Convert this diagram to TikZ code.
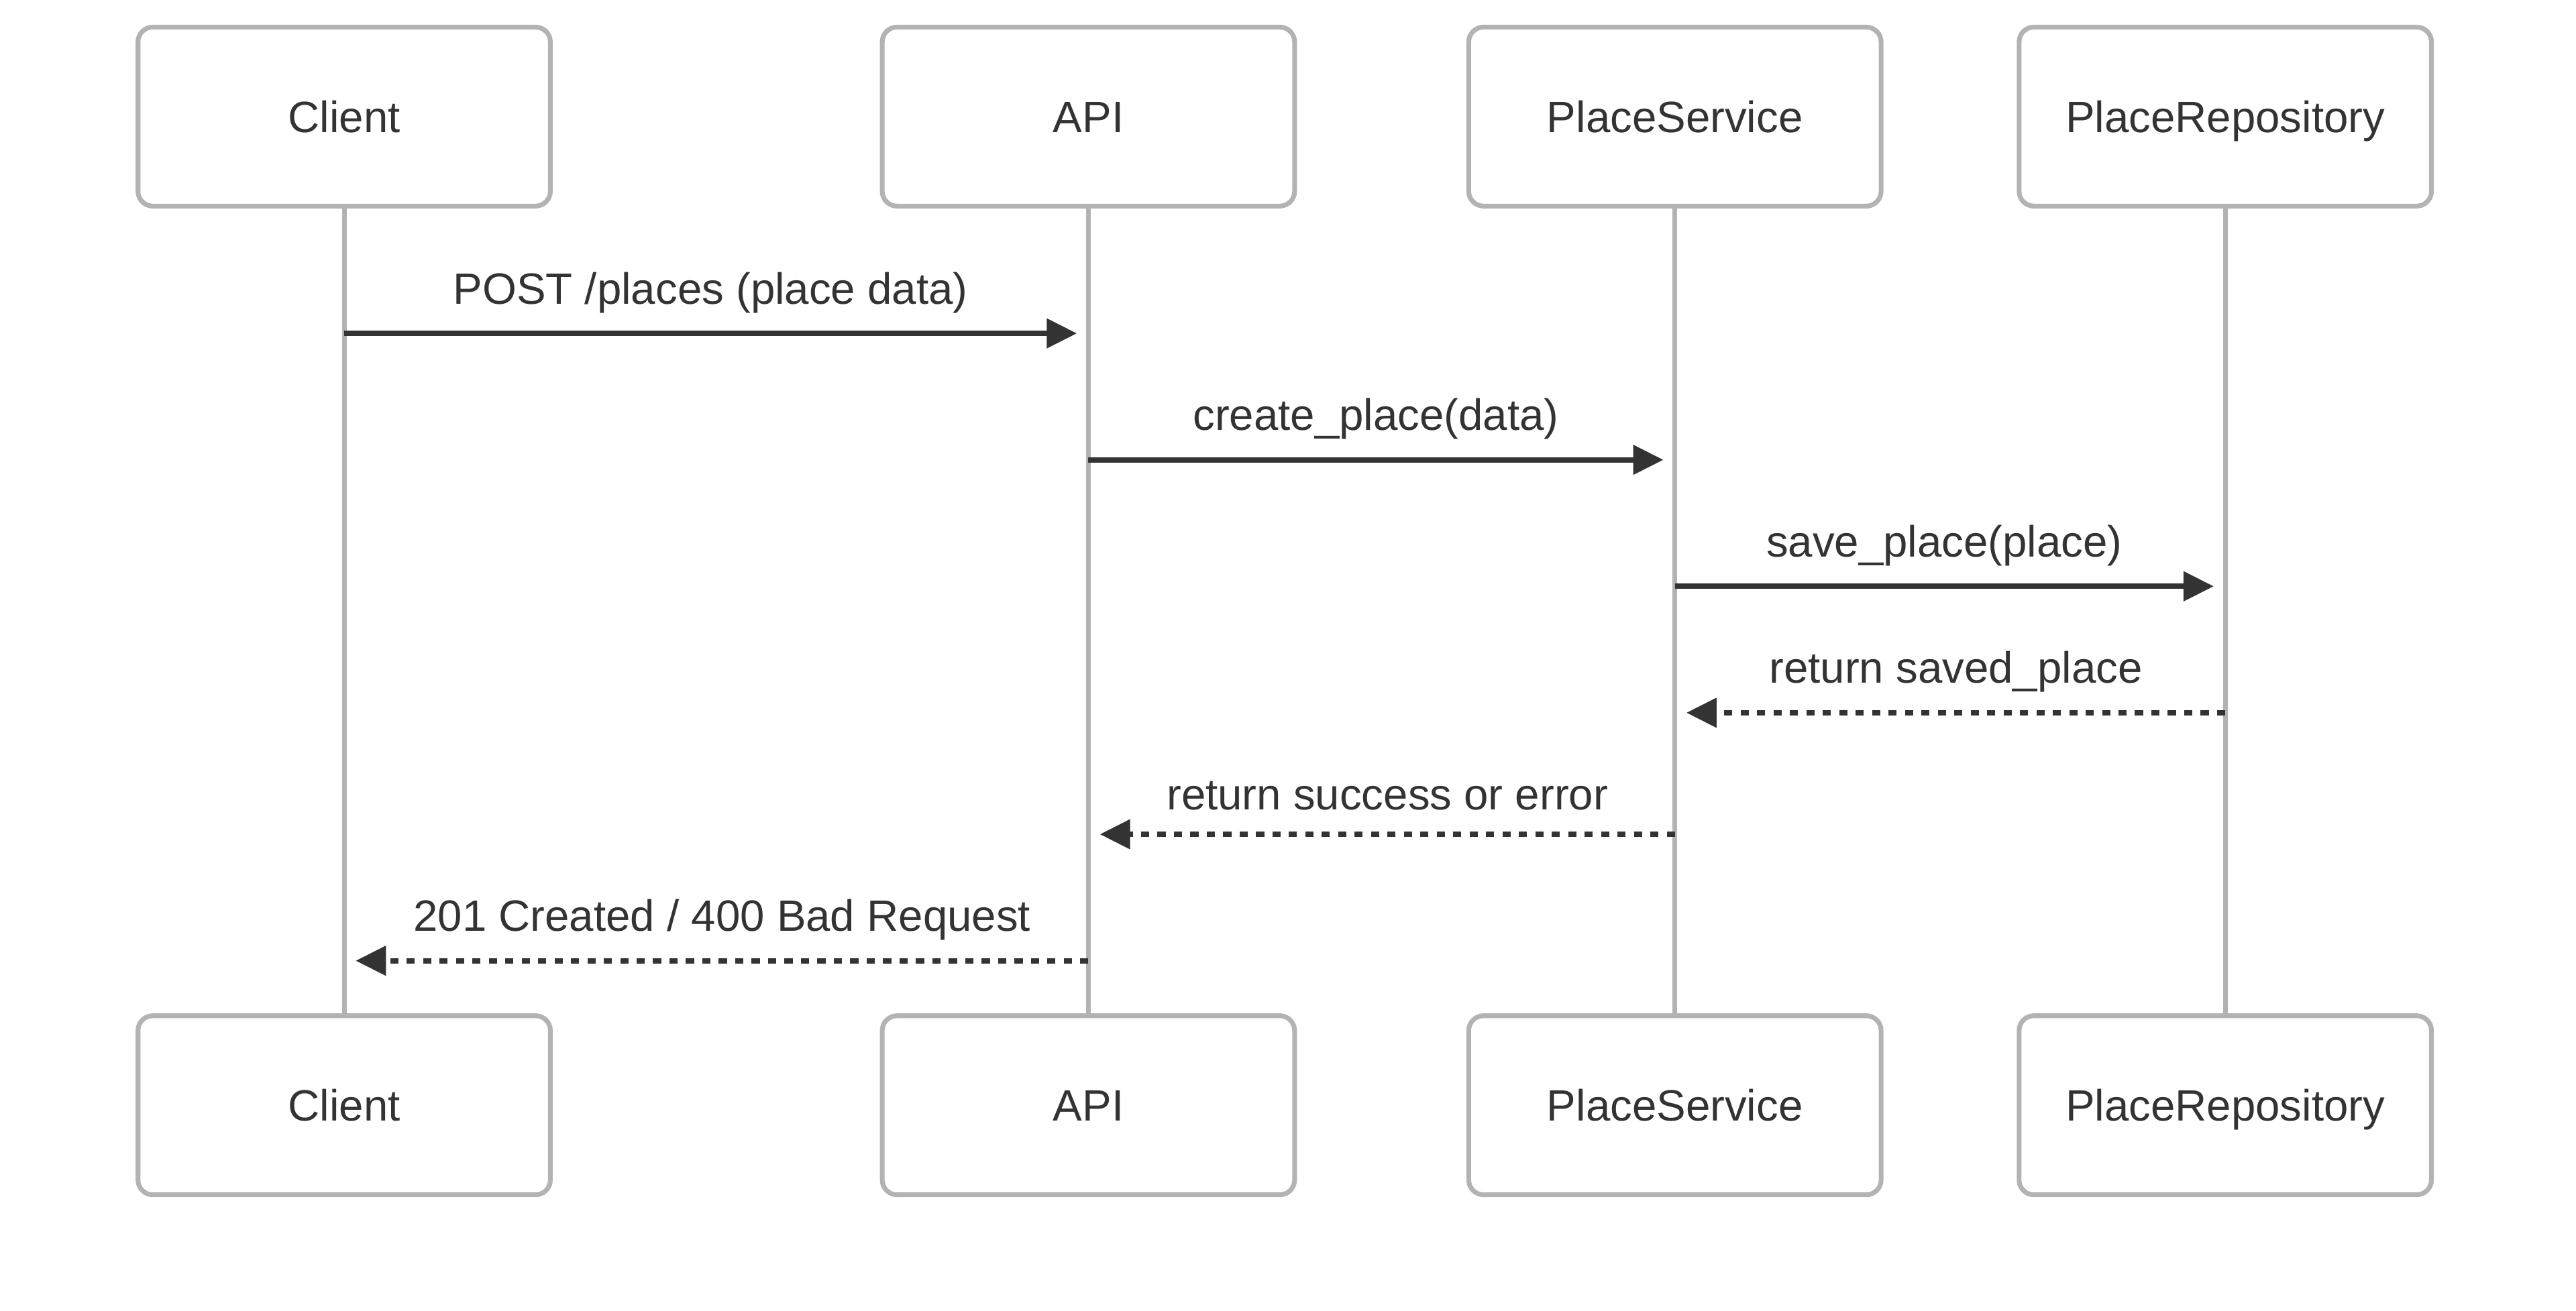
\documentclass[tikz,border=0pt]{standalone}
\usepackage{fontspec}
\setmainfont{Liberation Sans}
\usetikzlibrary{arrows.meta,calc}
\definecolor{txt}{HTML}{333333}
\definecolor{edgegray}{HTML}{B3B3B3}
\begin{document}
\begin{tikzpicture}[x=1pt,y=-1pt,
  actor/.style={draw=edgegray, line width=2.9pt, fill=white, rounded corners=9pt,
    minimum width=251pt, minimum height=109pt, inner sep=0pt, text=txt,
    font=\fontsize{26.7}{32}\selectfont, text height=19.1pt, text depth=0pt},
  lifeline/.style={draw=edgegray, line width=2.9pt},
  msg/.style={draw=txt, line width=3.3pt, -{Triangle[length=18.4pt,width=17.5pt]}},
  reply/.style={msg, dash pattern=on 5pt off 5pt},
  lbl/.style={anchor=base, text=txt, font=\fontsize{26.7}{32}\selectfont, inner sep=0pt}]
\fill[white] (0,0) rectangle (1568,798);
\useasboundingbox (0,0) rectangle (1568,798);

% actors top
\node[actor] (cT) at (209.5,71) {Client};
\node[actor] (aT) at (662.5,71) {API};
\node[actor] (sT) at (1019.5,71) {PlaceService};
\node[actor] (rT) at (1354.5,71) {PlaceRepository};
% actors bottom
\node[actor] (cB) at (209.5,673) {Client};
\node[actor] (aB) at (662.5,673) {API};
\node[actor] (sB) at (1019.5,673) {PlaceService};
\node[actor] (rB) at (1354.5,673) {PlaceRepository};

% lifelines
\draw[lifeline] (cT) -- (cB);
\draw[lifeline] (aT) -- (aB);
\draw[lifeline] (sT) -- (sB);
\draw[lifeline] (rT) -- (rB);

% message end points
\coordinate (m1s) at (cT |- 0,203);
\coordinate (m1e) at ($(aT |- 0,203)+(-7,0)$);
\coordinate (m2s) at (aT |- 0,280);
\coordinate (m2e) at ($(sT |- 0,280)+(-7,0)$);
\coordinate (m3s) at (sT |- 0,357);
\coordinate (m3e) at ($(rT |- 0,357)+(-7,0)$);
\coordinate (m4s) at (rT |- 0,434);
\coordinate (m4e) at ($(sT |- 0,434)+(7,0)$);
\coordinate (m5s) at (sT |- 0,508);
\coordinate (m5e) at ($(aT |- 0,508)+(7,0)$);
\coordinate (m6s) at (aT |- 0,585);
\coordinate (m6e) at ($(cT |- 0,585)+(7,0)$);

% messages
\draw[msg] (m1s) -- (m1e);
\draw[msg] (m2s) -- (m2e);
\draw[msg] (m3s) -- (m3e);
\draw[reply] (m4s) -- (m4e);
\draw[reply] (m5s) -- (m5e);
\draw[reply] (m6s) -- (m6e);

% labels
\node[lbl] (l1) at (432.5,185) {POST /places (place data)};
\node[lbl] (l2) at (837.5,262) {create\_place(data)};
\node[lbl] (l3) at (1183.5,339) {save\_place(place)};
\node[lbl] (l4) at (1190.5,416) {return saved\_place};
\node[lbl] (l5) at (844.5,493) {return success or error};
\node[lbl] (l6) at (439.5,567) {201 Created / 400 Bad Request};
\end{tikzpicture}
\end{document}
